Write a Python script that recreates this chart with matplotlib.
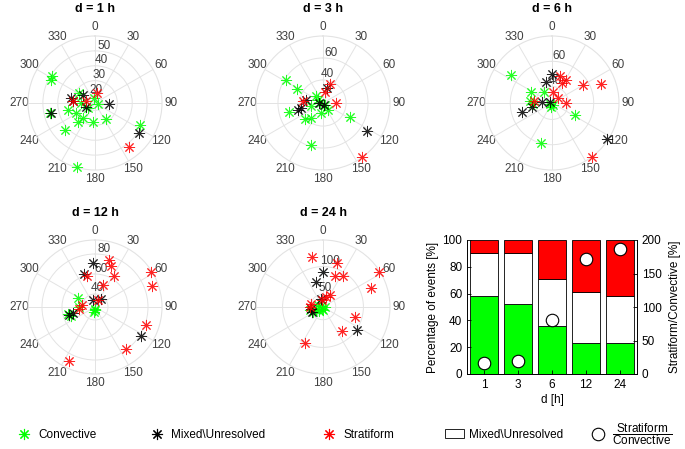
import numpy as np
import matplotlib.pyplot as plt
from matplotlib.lines import Line2D
from matplotlib.patches import Patch

plt.rcParams['font.family'] = ['Liberation Sans', 'DejaVu Sans']
plt.rcParams['mathtext.fontset'] = 'custom'
plt.rcParams['mathtext.rm'] = 'Liberation Sans'

# (угол в градусах, радиус) для каждого события
conv_1h = [(302, 48.7), (298, 48.5), (257, 46), (228, 42), (196, 60), (222, 32.5), (218, 27.8),
           (187, 28), (146, 28), (116, 48.7), (255, 34), (242, 29.5), (303, 27.5), (270, 24.4),
           (100, 17), (236, 21), (352, 18.4)]
mixed_1h = [(257, 45.5), (282, 31.5), (275, 30), (305, 24.7), (246, 21.6), (93, 24.2), (124, 50.5)]
strat_1h = [(9.5, 21.9), (142, 52.3), (274, 30), (280, 21)]

conv_3h = [(302.5, 58.6), (298, 46), (256, 51), (229, 41.3), (218, 36.4), (196, 58.6), (118, 46.7),
           (315, 27.6), (304, 24.5), (190, 28.3), (146, 27), (257, 30), (135, 21), (270, 22)]
mixed_3h = [(254, 42.8), (257, 39.3), (281, 34.5), (15, 33.2), (270, 22.7), (123, 66.3), (160, 21)]
strat_3h = [(19, 37.7), (9, 28.9), (90, 30.6), (275, 37.4), (144, 80)]

conv_6h = [(304, 66), (297, 45.5), (322, 37.8), (274, 44.8), (268, 42), (117, 47.3), (195, 59.4),
           (250, 29), (200, 30), (150, 29)]
mixed_6h = [(0, 50.3), (343, 44.5), (252.5, 51.7), (258.5, 43), (274, 34.7), (123.5, 78.9), (300, 29)]
strat_6h = [(17, 49.2), (31.6, 48.8), (27, 45), (59, 55.2), (69, 68.1), (5, 35.5), (50, 33.2),
            (90, 37.9), (275, 41.6), (143, 80)]

conv_12h = [(298, 46.7), (270, 43.3), (256, 55), (185, 30), (190, 32), (175, 29), (250, 53)]
mixed_12h = [(357, 71), (342, 61.3), (252, 54), (255, 50), (341, 34), (36, 37.3), (122.5, 81.6)]
strat_12h = [(17, 75.8), (21.5, 70.7), (32, 63.3), (19.5, 50), (345, 58.8), (58, 93), (70, 87.6),
             (109, 80.9), (143, 79.3), (206, 87), (264, 42.8), (277, 40), (22, 34.2)]

conv_24h = [(257, 40.6), (225, 37.3), (200, 30.3), (90, 30), (288, 36.6), (243, 46.8), (258, 51),
            (180, 33), (300, 32)]
mixed_24h = [(0.5, 90.5), (344, 74), (124, 100.7), (344, 42.7), (245, 48.4), (262, 49.6)]
strat_24h = [(348, 120), (17, 110.7), (22, 87.2), (33.5, 93.8), (57.5, 146), (69, 120.8),
             (107.5, 87.3), (142, 82), (206, 99.5), (31, 51.7), (15, 45.8), (354, 39.2),
             (270, 50.6), (286, 49)]

# столбчатая диаграмма
d_labels = ['1', '3', '6', '12', '24']
conv_pct = [58, 52, 36, 23, 23]
mixed_pct = [32, 38, 35, 38.5, 35]
strat_pct = [10, 10, 29, 38.5, 42]
ratio = [17, 19, 81, 171, 186]

green = '#00ff00'
red = '#ff0000'
grid_c = '#e3e3e3'

fig = plt.figure(figsize=(6.85, 4.49), dpi=100)


def polar_panel(rect, title, conv, mixed, strat, rmin, rmax, rticks):
    ax = fig.add_axes(rect, projection='polar')
    ax.set_theta_zero_location('N')
    ax.set_theta_direction(-1)
    for pts, col in ((conv, green), (mixed, 'k'), (strat, red)):
        th = np.deg2rad([p[0] for p in pts])
        r = [p[1] for p in pts]
        ax.plot(th, r, ls='none', marker=(8, 2, 0), ms=8, mew=0.7, color=col,
                alpha=0.85, zorder=3, clip_on=False)
    ax.set_rlim(rmin, rmax)
    ax.set_rticks(rticks)
    ax.set_rlabel_position(10)
    angles = list(range(0, 360, 30))
    ax.set_thetagrids(angles, labels=[str(a) for a in angles])
    ax.grid(color=grid_c, lw=0.7)
    ax.spines['polar'].set_color(grid_c)
    ax.tick_params(axis='x', labelsize=8.5, colors='#404040', pad=-4)
    ax.tick_params(axis='y', labelsize=8.5, colors='#404040')
    for lab in ax.get_yticklabels():
        lab.set_ha('center')
    ax.set_title(title, fontweight='bold', fontsize=9, y=1.18, pad=0)
    return ax


w, h = 134 / 685, 134 / 449
polar_panel([28 / 685, 1 - 170 / 449, w, h], 'd = 1 h', conv_1h, mixed_1h, strat_1h, 15, 60, [20, 30, 40, 50])
polar_panel([256 / 685, 1 - 170 / 449, w, h], 'd = 3 h', conv_3h, mixed_3h, strat_3h, 19, 80, [40, 60])
polar_panel([485 / 685, 1 - 170 / 449, w, h], 'd = 6 h', conv_6h, mixed_6h, strat_6h, 27, 80, [40, 60])
polar_panel([28 / 685, 1 - 374 / 449, w, h], 'd = 12 h', conv_12h, mixed_12h, strat_12h, 27, 94, [40, 60, 80])
polar_panel([256 / 685, 1 - 374 / 449, w, h], 'd = 24 h', conv_24h, mixed_24h, strat_24h, 27, 148, [50, 100])

# столбцы
ax = fig.add_axes([467 / 685, 1 - 374 / 449, 170 / 685, 134 / 449])
x = np.arange(1, len(d_labels) + 1)
bw = 0.85
ax.bar(x, conv_pct, bw, color=green, edgecolor='k', lw=0.6)
ax.bar(x, mixed_pct, bw, bottom=conv_pct, color='white', edgecolor='k', lw=0.6)
ax.bar(x, strat_pct, bw, bottom=np.add(conv_pct, mixed_pct), color=red, edgecolor='k', lw=0.6)
ax.set_xlim(0.5, 5.5)
ax.set_ylim(0, 100)
ax.set_yticks(range(0, 101, 20))
ax.set_xticks(x)
ax.set_xticklabels(d_labels)
ax.set_xlabel('d [h]', fontsize=8.5, labelpad=2)
ax.set_ylabel('Percentage of events [%]', fontsize=8.5, labelpad=2)
ax.tick_params(direction='in', labelsize=8.5, length=3, width=0.6)
ax.spines['top'].set_visible(False)
for s in ax.spines.values():
    s.set_linewidth(0.6)

ax2 = ax.twinx()
ax2.plot(x, ratio, ls='none', marker='o', ms=9, mfc='white', mec='k', mew=0.8)
ax2.set_ylim(0, 200)
ax2.set_yticks(range(0, 201, 50))
ax2.set_ylabel('Stratiform/Convective [%]', fontsize=8.5, labelpad=5)
ax2.tick_params(direction='in', labelsize=8.5, length=3, width=0.6)
ax2.spines['top'].set_visible(False)
for s in ax2.spines.values():
    s.set_linewidth(0.6)

# легенда
star = dict(marker=(8, 2, 0), ls='none', ms=8, mew=0.8)
entries = [
    (Line2D([], [], color=green, **star), 'Convective', 0.0213),
    (Line2D([], [], color='k', **star), 'Mixed\\Unresolved', 0.2155),
    (Line2D([], [], color=red, **star), 'Stratiform', 0.4666),
    (Patch(facecolor='white', edgecolor='k', lw=0.6), 'Mixed\\Unresolved', 0.6496),
    (Line2D([], [], marker='o', ls='none', ms=9, mfc='white', mec='k', mew=0.8),
     r'$\dfrac{\mathrm{Stratiform}}{\mathrm{Convective}}$', 0.859),
]
for handle, label, xpos in entries:
    fig.legend([handle], [label], loc='center left', bbox_to_anchor=(xpos, 0.032),
               frameon=False, fontsize=8.5, handlelength=1.6, handletextpad=0.4,
               borderaxespad=0, borderpad=0)

plt.savefig('out.png', dpi=100)
